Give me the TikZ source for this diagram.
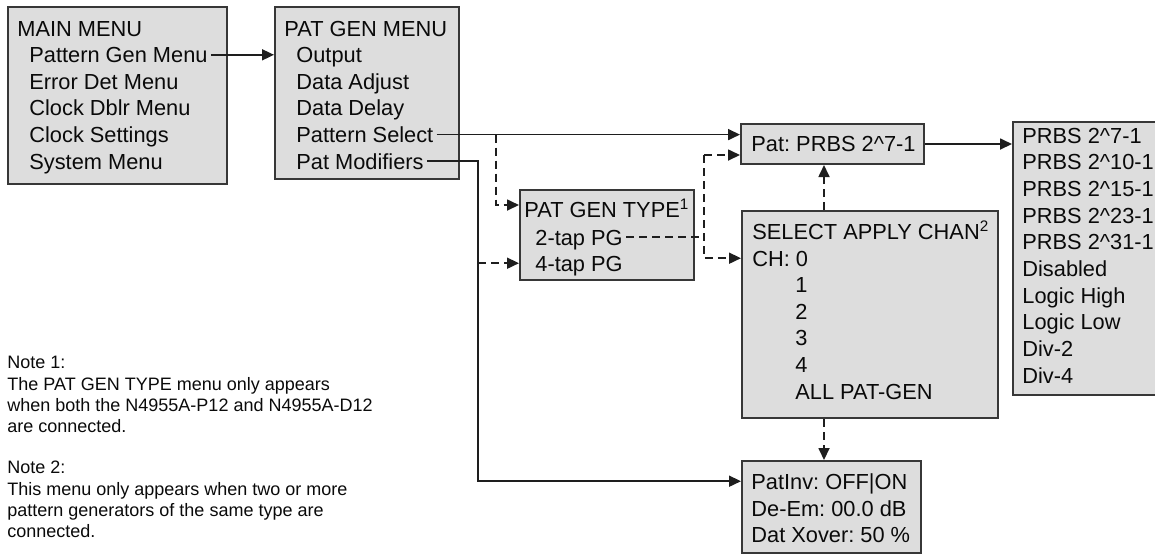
\documentclass[tikz,border=0pt]{standalone}
\usepackage{fontspec}
\setmainfont{Liberation Sans}
\usetikzlibrary{positioning, calc, arrows.meta}
\frenchspacing

\definecolor{boxgray}{RGB}{221,221,221}
\definecolor{edgegray}{RGB}{55,55,55}
\definecolor{linegray}{RGB}{30,30,30}
\definecolor{inkgray}{RGB}{10,10,10}

\newcommand{\menufont}{\fontsize{10.9}{13.3}\selectfont}
\newcommand{\notefont}{\fontsize{9}{10.65}\selectfont}

\tikzset{
  menubox/.style = {draw=edgegray, fill=boxgray, line width=1pt, anchor=north west, inner sep=0pt},
  entry/.style = {anchor=base west, inner xsep=1.5pt, inner ysep=0pt, text height=7.8pt, text depth=0pt, font=\menufont, text=inkgray},
  note/.style = {anchor=north west, inner sep=0pt, align=left, font=\notefont, text=inkgray},
  link/.style = {line width=0.85pt, draw=linegray},
  dashlink/.style = {link, dash pattern=on 4pt off 2.5pt},
  tip/.style = {-{Triangle[length=6pt,width=5.5pt]}}
}

\begin{document}
\begin{tikzpicture}[x=0.5pt, y=-0.5pt]
\useasboundingbox (0,0) rectangle (1155,554);

% menu boxes
\node[menubox, minimum width=109.5pt, minimum height=88.5pt] (mainbox) at (7,6) {};
\node[menubox, minimum width=92pt, minimum height=86pt] (pgbox) at (274,6) {};
\node[menubox, minimum width=87pt, minimum height=45pt] (typebox) at (519,189) {};
\node[menubox, minimum width=91.5pt, minimum height=20pt] (patbox) at (740,123) {};
\node[menubox, minimum width=128pt, minimum height=103.5pt] (chanbox) at (741,210) {};
\node[menubox, minimum width=75pt, minimum height=136.5pt] (listbox) at (1012,121) {};
\node[menubox, minimum width=89.5pt, minimum height=46pt] (modbox) at (741,460) {};

% main menu
\node[entry] (maintitle) at (14,36) {MAIN MENU};
\foreach \txt [count=\i] in {Pattern Gen Menu, Error Det Menu, Clock Dblr Menu, Clock Settings, System Menu}
  \node[entry] (main\i) at ({26},{36+26.6*\i}) {\txt};

% pattern generator menu
\node[entry] (pgtitle) at (281,36) {PAT GEN MENU};
\foreach \txt [count=\i] in {Output, Data Adjust, Data Delay, Pattern Select, Pat Modifiers}
  \node[entry] (pg\i) at ({293},{36+26.6*\i}) {\txt};

% generator type
\node[entry] (typetitle) at (521,217) {PAT GEN TYPE\textsuperscript{1}};
\node[entry] (tap2) at (532,245) {2-tap PG};
\node[entry] (tap4) at (532,271) {4-tap PG};

% pattern
\node[entry] (pat) at (748,151) {Pat: PRBS 2\^{}7-1};

% channel select
\node[entry] (chantitle) at (749,239) {SELECT APPLY CHAN\textsuperscript{2}};
\node[entry] (ch0) at (749,266) {CH: 0};
\foreach \txt [count=\i] in {1, 2, 3, 4, ALL PAT-GEN}
  \node[entry] (ch\i) at ({792},{266+26.6*\i}) {\txt};

% pattern list
\foreach \txt [count=\i from 0] in {PRBS 2\^{}7-1, PRBS 2\^{}10-1, PRBS 2\^{}15-1, PRBS 2\^{}23-1, PRBS 2\^{}31-1, Disabled, Logic High, Logic Low, Div-2, Div-4}
  \node[entry] (list\i) at ({1019},{143+26.7*\i}) {\txt};

% modifiers
\node[entry] (mod1) at (748,489) {PatInv: OFF|ON};
\node[entry] (mod2) at (748,516) {De-Em: 00.0 dB};
\node[entry] (mod3) at (748,542) {Dat Xover: 50 \%};

% notes
\node[note] (note1) at (7,356) {Note 1:\\The PAT GEN TYPE menu only appears\\when both the N4955A-P12 and N4955A-D12\\are connected.};
\node[note] (note2) at (7,461) {Note 2:\\This menu only appears when two or more\\pattern generators of the same type are\\connected.};

% fork points
\coordinate (selfork) at (496,0);
\coordinate (modfork) at (478,0);
\coordinate (typefork) at (704,0);
\coordinate (upx) at (824,0);
\coordinate (patin) at ($(patbox.south west)+(0,-10)$);
\coordinate (typein) at ($(typebox.north west)+(0,16)$);

% connectors
\draw[link,tip] (main1.east) -- (main1.east -| pgbox.west);
\draw[link,tip] (pg4.east) -- (pg4.east -| patbox.west);
\draw[dashlink,tip] (pg4.east -| selfork) |- (typein);
\draw[link,tip] (pg5.east) -- (pg5.east -| modfork) |- (modbox.west |- mod1);
\draw[dashlink,tip] (tap4.west -| modfork) -- (tap4.west -| typebox.west);
\draw[dashlink] (tap2.east) -- (tap2.east -| typefork);
\draw[dashlink,tip] (patin -| typefork) -- (patin);
\draw[dashlink,tip] (patin -| typefork) |- (chanbox.west |- ch0);
\draw[dashlink,tip] (chanbox.north -| upx) -- (patbox.south -| upx);
\draw[dashlink,tip] (chanbox.south -| upx) -- (modbox.north -| upx);
\draw[link,tip] (patbox.east) -- (patbox.east -| listbox.west);
\end{tikzpicture}
\end{document}
